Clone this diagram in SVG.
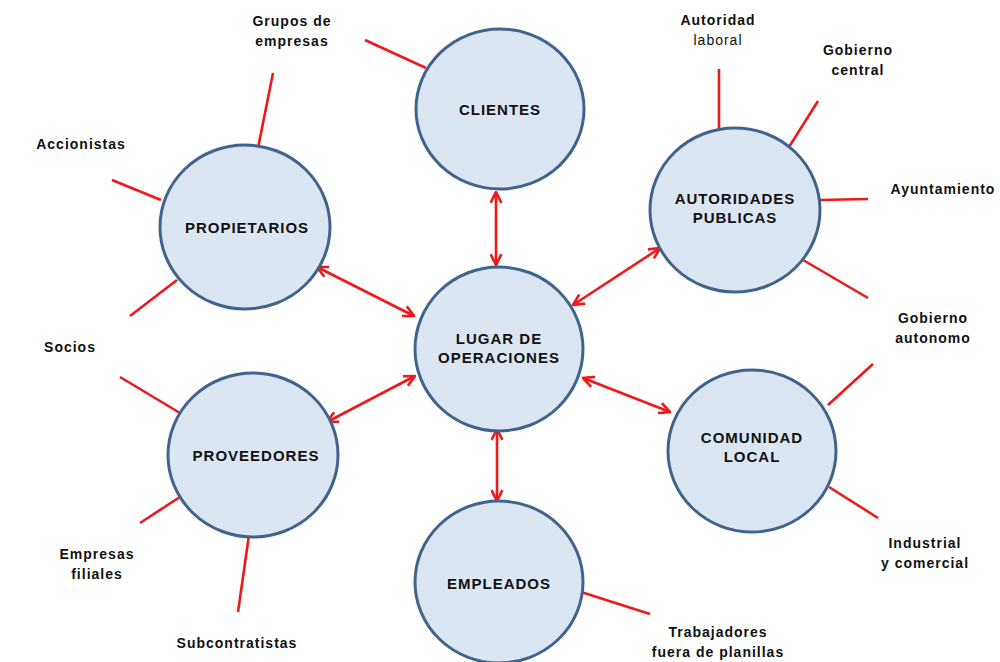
<svg xmlns="http://www.w3.org/2000/svg" width="1000" height="662" viewBox="0 0 1000 662">
<style>
.n{fill:#dce6f2;stroke:#41648f;stroke-width:3}
.t{font-family:"Liberation Sans",Arial,sans-serif;font-weight:bold;font-size:15px;letter-spacing:1px;fill:#111;text-anchor:middle}
.l{font-family:"Liberation Sans",Arial,sans-serif;font-weight:bold;font-size:14px;letter-spacing:1px;fill:#111;text-anchor:middle}
.r{font-weight:normal}
.s{stroke:#f01818;stroke-width:2.6;fill:none}
.a{stroke:#f01818;stroke-width:2.6;fill:none;marker-start:url(#h);marker-end:url(#h)}
</style>
<defs>
<marker id="h" viewBox="0 0 12 12" refX="11" refY="6" markerWidth="5" markerHeight="5" orient="auto-start-reverse" markerUnits="strokeWidth">
<path d="M1,1 L11,6 L1,11" fill="none" stroke="#f01818" stroke-width="2.4"/>
</marker>
</defs>
<rect width="1000" height="662" fill="#fff"/>
<g id="connectors">
<line class="s" x1="365" y1="40" x2="426" y2="68"/>
<line class="s" x1="258" y1="148" x2="273" y2="73"/>
<line class="s" x1="112" y1="180" x2="161" y2="200"/>
<line class="s" x1="130" y1="316" x2="177" y2="280"/>
<line class="s" x1="120" y1="377" x2="180" y2="413"/>
<line class="s" x1="140" y1="523" x2="183" y2="495"/>
<line class="s" x1="249" y1="535" x2="238" y2="612"/>
<line class="s" x1="581" y1="592" x2="650" y2="614"/>
<line class="s" x1="829" y1="487" x2="878" y2="518"/>
<line class="s" x1="828" y1="405" x2="873" y2="364"/>
<line class="s" x1="803" y1="260" x2="868" y2="298"/>
<line class="s" x1="820" y1="200" x2="868" y2="199"/>
<line class="s" x1="789" y1="147" x2="818" y2="101"/>
<line class="s" x1="719" y1="128" x2="719" y2="69"/>
<line class="a" x1="496" y1="192" x2="496" y2="265"/>
<line class="a" x1="317" y1="267" x2="414" y2="316"/>
<line class="a" x1="327" y1="422" x2="415" y2="376"/>
<line class="a" x1="497" y1="429" x2="497" y2="501"/>
<line class="a" x1="573" y1="305" x2="660" y2="248"/>
<line class="a" x1="583" y1="378" x2="670" y2="412"/>
</g>
<g id="clientes"><ellipse class="n" cx="500" cy="109" rx="84" ry="80"/><text class="t" x="500" y="115">CLIENTES</text></g>
<g id="lugar"><ellipse class="n" cx="499" cy="349" rx="84" ry="82"/><text class="t" x="499" y="344">LUGAR DE</text><text class="t" x="499" y="363">OPERACIONES</text></g>
<g id="propietarios"><ellipse class="n" cx="245" cy="227" rx="85" ry="82"/><text class="t" x="247" y="233">PROPIETARIOS</text></g>
<g id="proveedores"><ellipse class="n" cx="253" cy="455" rx="85" ry="82"/><text class="t" x="256" y="461">PROVEEDORES</text></g>
<g id="empleados"><ellipse class="n" cx="499" cy="582" rx="84" ry="81"/><text class="t" x="499" y="589">EMPLEADOS</text></g>
<g id="autoridades"><ellipse class="n" cx="735" cy="210" rx="85" ry="82"/><text class="t" x="735" y="204">AUTORIDADES</text><text class="t" x="735" y="223">PUBLICAS</text></g>
<g id="comunidad"><ellipse class="n" cx="752" cy="451" rx="84" ry="81"/><text class="t" x="752" y="443">COMUNIDAD</text><text class="t" x="752" y="462">LOCAL</text></g>
<g id="labels">
<text class="l" x="292" y="26">Grupos de</text><text class="l" x="292" y="46">empresas</text>
<text class="l" x="81" y="149">Accionistas</text>
<text class="l" x="70" y="352">Socios</text>
<text class="l" x="97" y="559">Empresas</text><text class="l" x="97" y="579">filiales</text>
<text class="l" x="237" y="648">Subcontratistas</text>
<text class="l" x="718" y="637">Trabajadores</text><text class="l" x="718" y="657">fuera de planillas</text>
<text class="l" x="925" y="548">Industrial</text><text class="l" x="925" y="568">y comercial</text>
<text class="l" x="933" y="323">Gobierno</text><text class="l" x="933" y="343">autonomo</text>
<text class="l" x="943" y="194">Ayuntamiento</text>
<text class="l" x="858" y="55">Gobierno</text><text class="l" x="858" y="75">central</text>
<text class="l" x="718" y="25">Autoridad</text><text class="l r" x="718" y="45">laboral</text>
</g>
</svg>
